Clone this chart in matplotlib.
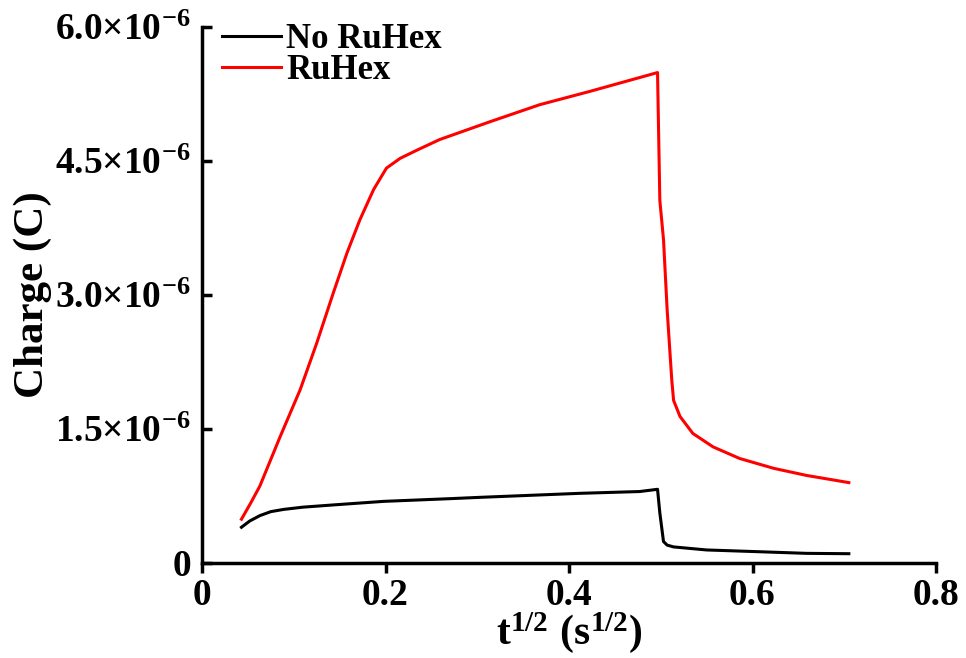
import matplotlib
matplotlib.use("Agg")
import matplotlib.pyplot as plt
from matplotlib.ticker import FixedLocator, FixedFormatter

plt.rcParams['font.family'] = ['Liberation Serif', 'DejaVu Serif']
plt.rcParams['font.weight'] = 'bold'
plt.rcParams['mathtext.fontset'] = 'custom'
plt.rcParams['mathtext.rm'] = 'Liberation Serif:bold'
plt.rcParams['mathtext.bf'] = 'Liberation Serif:bold'
plt.rcParams['mathtext.it'] = 'Liberation Serif:bold'

# ---- data (x = t^1/2 in s^1/2, y = charge in 1e-6 C) ----
red_x = [0.043, 0.053, 0.063, 0.085, 0.107, 0.125, 0.143, 0.158, 0.172, 0.187, 0.201,
         0.216, 0.234, 0.259, 0.314, 0.368, 0.423, 0.4965, 0.499, 0.503, 0.507,
         0.512, 0.514, 0.521, 0.535, 0.557, 0.586, 0.623, 0.659, 0.705]
red_y = [0.49, 0.67, 0.86, 1.41, 1.94, 2.46, 3.02, 3.47, 3.84, 4.18, 4.42,
         4.53, 4.62, 4.74, 4.94, 5.13, 5.28, 5.49, 4.06, 3.62, 2.83,
         2.05, 1.82, 1.64, 1.45, 1.30, 1.17, 1.06, 0.98, 0.90]

black_x = [0.043, 0.052, 0.063, 0.075, 0.089, 0.11, 0.143, 0.198, 0.27, 0.303,
           0.412, 0.477, 0.4965, 0.499, 0.503, 0.507, 0.514, 0.55, 0.605, 0.659, 0.705]
black_y = [0.40, 0.47, 0.53, 0.575, 0.60, 0.625, 0.65, 0.69, 0.72, 0.735,
           0.78, 0.80, 0.825, 0.56, 0.24, 0.20, 0.18, 0.146, 0.127, 0.108, 0.104]

series_labels = ['No RuHex', 'RuHex']

x_ticks = [0, 0.2, 0.4, 0.6, 0.8]
x_tick_labels = ['0', '0.2', '0.4', '0.6', '0.8']
y_ticks = [0, 1.5e-6, 3.0e-6, 4.5e-6, 6.0e-6]
y_tick_labels = ['0', r'$1.5{\times}10^{-6}$', r'$3.0{\times}10^{-6}$',
                 r'$4.5{\times}10^{-6}$', r'$6.0{\times}10^{-6}$']

fig = plt.figure(figsize=(9.66, 6.58), dpi=100)
ax = fig.add_axes([202/966, 1-563/658, (936-202)/966, (563-27)/658])

ax.plot(black_x, [v*1e-6 for v in black_y], color='black', lw=2.2, label=series_labels[0])
ax.plot(red_x, [v*1e-6 for v in red_y], color='#ff0000', lw=2.2, label=series_labels[1])

ax.set_xlim(0, 0.8)
ax.set_ylim(0, 6.0e-6)
ax.xaxis.set_major_locator(FixedLocator(x_ticks))
ax.xaxis.set_major_formatter(FixedFormatter(x_tick_labels))
ax.yaxis.set_major_locator(FixedLocator(y_ticks))
ax.yaxis.set_major_formatter(FixedFormatter(y_tick_labels))

for s in ['top', 'right']:
    ax.spines[s].set_visible(False)
for s in ['left', 'bottom']:
    ax.spines[s].set_linewidth(2.5)

ax.tick_params(axis='y', direction='in', length=7, width=2.5, pad=8, labelsize=27)
ax.tick_params(axis='x', direction='out', length=7, width=2.5, pad=4, labelsize=27)
for lab in ax.get_xticklabels() + ax.get_yticklabels():
    lab.set_fontweight('bold')

ax.set_ylabel('Charge (C)', fontsize=31, fontweight='bold')
ax.yaxis.set_label_coords(-(202-52)/734, 0.5)
ax.set_xlabel(r'$\mathbf{t^{1/2}\ (s^{1/2})}$', fontsize=30, labelpad=-2)

leg = ax.legend(loc='upper left', bbox_to_anchor=(222/966, 1-23/658),
                bbox_transform=fig.transFigure, frameon=False,
                prop={'family': 'Liberation Serif', 'weight': 'bold', 'size': 25},
                handlelength=1.7, handletextpad=0.15, labelspacing=-0.05,
                borderpad=0, borderaxespad=0)

fig.savefig('out.png', dpi=100)
